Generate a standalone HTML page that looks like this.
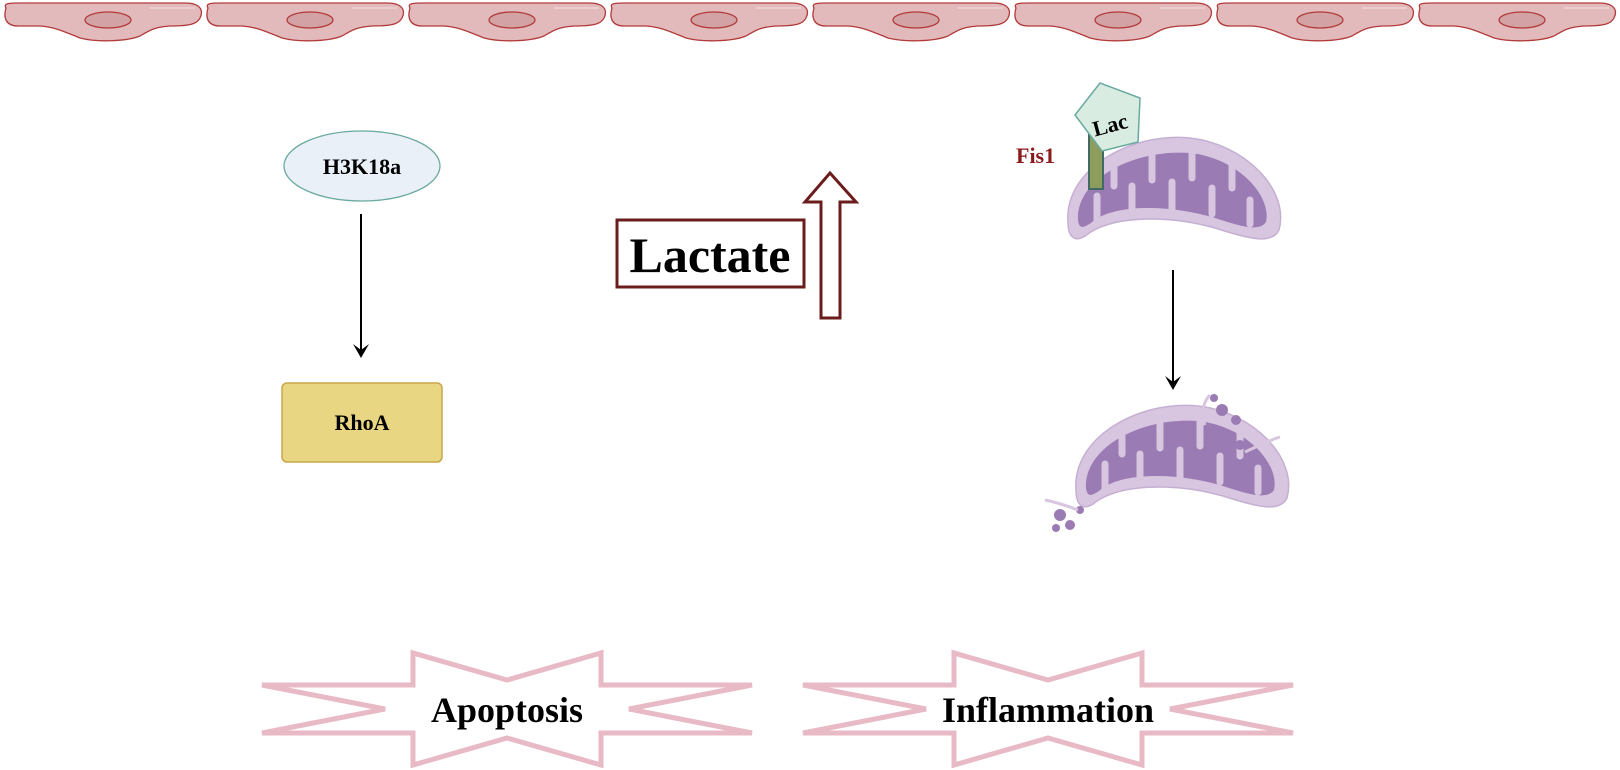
<!DOCTYPE html>
<html><head><meta charset="utf-8"><style>
html,body{margin:0;padding:0;background:#fff;}
svg{display:block;}
text{font-family:"Liberation Serif",serif;font-weight:bold;}
</style></head><body>
<svg width="1620" height="770" viewBox="0 0 1620 770" xmlns="http://www.w3.org/2000/svg">
<defs>
<g id="cell">
<path d="M6,8 C3,3 10,3 20,3 L185,3 C200,3 204,10 200,18 C197,24 190,26 170,26 C155,27 150,30 140,36 C125,42 95,42 80,38 C65,32 55,27 40,26 L18,26 C6,26 3,18 6,8 Z" fill="#e2babb" stroke="#b23a3a" stroke-width="1.3"/>
<path d="M150,8 L195,8" stroke="#f0d6d6" stroke-width="2" opacity="0.7"/>
<ellipse cx="108" cy="20" rx="23" ry="8" fill="#d3a2a5" stroke="#b23a3a" stroke-width="1.3"/>
</g>
<g id="mito">
<path d="M1068,222 C1064,170 1130,132 1190,138 C1245,144 1290,190 1279,230 C1272,244 1252,240 1215,228 C1165,214 1110,216 1085,236 C1074,243 1068,236 1068,222 Z" fill="#d8c5e0" stroke="#c5b0d2" stroke-width="1.5"/>
<path d="M1078,220 C1076,180 1132,149 1190,153 C1238,158 1272,196 1266,222 C1260,231 1245,228 1215,218 C1165,203 1110,205 1091,223 C1082,229 1079,228 1078,220 Z" fill="#9a7bb3"/>
<g stroke="#d8c5e0" stroke-width="7" stroke-linecap="round">
<line x1="1097" y1="222" x2="1097" y2="196"/>
<line x1="1114" y1="160" x2="1114" y2="186"/>
<line x1="1132" y1="213" x2="1132" y2="186"/>
<line x1="1152" y1="152" x2="1152" y2="180"/>
<line x1="1172" y1="210" x2="1172" y2="182"/>
<line x1="1192" y1="152" x2="1192" y2="178"/>
<line x1="1212" y1="214" x2="1212" y2="188"/>
<line x1="1232" y1="160" x2="1232" y2="188"/>
<line x1="1250" y1="224" x2="1250" y2="200"/>
</g>
</g>
<polygon id="star" points="262,685 413,685 413,653 507,680 601,653 601,685 752,685 629,709 752,733 601,733 601,765 507,738 413,765 413,733 262,733 385,709" fill="none" stroke="#e8bac5" stroke-width="5"/>
</defs>

<use href="#cell" x="0"/><use href="#cell" x="202"/><use href="#cell" x="404"/><use href="#cell" x="606"/>
<use href="#cell" x="808"/><use href="#cell" x="1010"/><use href="#cell" x="1212"/><use href="#cell" x="1414"/>

<ellipse cx="362" cy="166" rx="78" ry="35" fill="#eaf0f7" stroke="#6aaa9e" stroke-width="1.3"/>
<text x="362" y="174" font-size="22" text-anchor="middle">H3K18a</text>
<line x1="361" y1="214" x2="361" y2="352" stroke="#000" stroke-width="2"/>
<path d="M353,344 L361,358 L369,344 L361,350 Z" fill="#000"/>
<rect x="282" y="383" width="160" height="79" rx="5" fill="#e8d682" stroke="#c9a54a" stroke-width="1.5"/>
<text x="362" y="430" font-size="22" text-anchor="middle">RhoA</text>

<rect x="617" y="220" width="187" height="67" fill="#fff" stroke="#6b1c1c" stroke-width="3"/>
<text x="710" y="272" font-size="50" text-anchor="middle">Lactate</text>
<path d="M830,173 L856,202 L840,202 L840,318 L821,318 L821,202 L805,202 Z" fill="#fff" stroke="#6b1c1c" stroke-width="3"/>

<use href="#mito"/>
<rect x="1089" y="135" width="14" height="54" fill="#8e9d5e" stroke="#3f6b64" stroke-width="2"/>
<polygon points="1075,115 1100,83 1140,98 1138,142 1102,151" fill="#d8ece2" stroke="#6aaa9e" stroke-width="1.5"/>
<text x="0" y="0" font-size="22" transform="translate(1112,132) rotate(-15)" text-anchor="middle">Lac</text>
<text x="1016" y="163" font-size="22" fill="#8b1a1a">Fis1</text>

<line x1="1173" y1="270" x2="1173" y2="384" stroke="#000" stroke-width="2"/>
<path d="M1165,376 L1173,390 L1181,376 L1173,382 Z" fill="#000"/>

<g transform="translate(8,268)"><use href="#mito"/></g>
<g fill="#9a7bb3">
<circle cx="1222" cy="410" r="6"/><circle cx="1236" cy="420" r="5"/><circle cx="1214" cy="398" r="4"/>
<circle cx="1240" cy="445" r="5"/><circle cx="1060" cy="515" r="6"/><circle cx="1070" cy="525" r="5"/>
<circle cx="1080" cy="510" r="4"/><circle cx="1056" cy="528" r="4"/>
</g>
<g stroke="#d8c5e0" stroke-width="3" fill="none">
<path d="M1205,425 C1200,410 1205,400 1210,395"/><path d="M1245,452 C1260,445 1270,440 1280,437"/>
<path d="M1078,510 C1065,505 1055,502 1045,500"/>
</g>

<use href="#star"/>
<text x="507" y="722" font-size="36" text-anchor="middle">Apoptosis</text>
<use href="#star" x="541"/>
<text x="1048" y="722" font-size="36" text-anchor="middle">Inflammation</text>
</svg>
</body></html>
